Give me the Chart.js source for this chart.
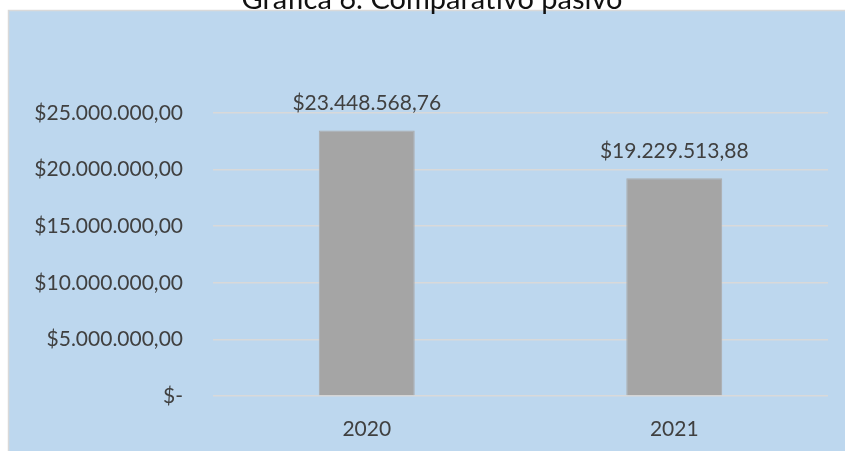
<!DOCTYPE html>
<html>
<head>
<meta charset="utf-8">
<script src="https://cdn.jsdelivr.net/npm/chart.js@4.4.0/dist/chart.umd.min.js"></script>
<style>
    body { margin: 0; background: #ffffff; }
    #wrap { width: 845px; height: 451px; }
</style>
</head>
<body>
<div id="wrap"><canvas id="myChart" width="845" height="451"></canvas></div>
<script>
// datos del grafico
var years = ['2020', '2021'];
var pasivo = [23448568.76, 19229513.88];
var yTicks = [0, 5000000, 10000000, 15000000, 20000000, 25000000];
var yTickLabels = ['$-', '$5.000.000,00', '$10.000.000,00', '$15.000.000,00', '$20.000.000,00', '$25.000.000,00'];
var chartTitle = 'Gráfica 6. Comparativo pasivo';

var fontName = 'Lato, "Open Sans", sans-serif';
var textColor = '#404040';

function formatMoney(v) {
    var parts = v.toFixed(2).split('.');
    var ent = parts[0].replace(/\B(?=(\d{3})+(?!\d))/g, '.');
    return '$' + ent + ',' + parts[1];
}

// fondo azul y titulo
var backgroundPlugin = {
    id: 'fondo',
    beforeDraw: function (chart) {
        var ctx = chart.ctx;
        ctx.save();
        ctx.fillStyle = '#ffffff';
        ctx.fillRect(0, 0, chart.width, chart.height);
        ctx.fillStyle = '#bdd7ee';
        ctx.fillRect(9, 11, chart.width - 9, chart.height - 11);
        ctx.strokeStyle = '#d9d9d9';
        ctx.lineWidth = 1.5;
        ctx.beginPath();
        ctx.moveTo(8.5, chart.height);
        ctx.lineTo(8.5, 10.5);
        ctx.lineTo(chart.width, 10.5);
        ctx.stroke();
        ctx.fillStyle = '#111111';
        ctx.font = '29px ' + fontName;
        ctx.textAlign = 'center';
        ctx.textBaseline = 'alphabetic';
        ctx.fillText(chartTitle, 432, 9);
        ctx.restore();
    }
};

// etiquetas de valor encima de las barras
var labelPlugin = {
    id: 'etiquetas',
    afterDatasetsDraw: function (chart) {
        var ctx = chart.ctx;
        var meta = chart.getDatasetMeta(0);
        ctx.save();
        ctx.fillStyle = textColor;
        ctx.font = '21px ' + fontName;
        ctx.textAlign = 'center';
        ctx.textBaseline = 'middle';
        meta.data.forEach(function (bar, i) {
            ctx.fillText(formatMoney(pasivo[i]), bar.x, bar.y - 27);
        });
        ctx.restore();
    }
};

var ctx = document.getElementById('myChart').getContext('2d');
var myChart = new Chart(ctx, {
    type: 'bar',
    data: {
        labels: years,
        datasets: [{
            label: 'Pasivo',
            data: pasivo,
            backgroundColor: '#a5a5a5',
            borderColor: '#acacac',
            borderWidth: 1,
            categoryPercentage: 1,
            barPercentage: 0.312
        }]
    },
    options: {
        responsive: false,
        animation: false,
        layout: {
            padding: { top: 113, right: 17, bottom: 0, left: 0 }
        },
        plugins: {
            legend: { display: false },
            title: { display: false },
            tooltip: { enabled: false }
        },
        scales: {
            x: {
                grid: { display: false },
                border: { display: false },
                ticks: {
                    color: textColor,
                    font: { family: fontName, size: 21 },
                    padding: 13
                },
                afterFit: function (s) { s.height = 55; }
            },
            y: {
                min: 0,
                max: 25000000,
                afterBuildTicks: function (s) {
                    s.ticks = yTicks.map(function (v) { return { value: v }; });
                },
                grid: {
                    color: '#d9d9d9',
                    lineWidth: 1.5,
                    drawTicks: false
                },
                border: { display: false },
                ticks: {
                    color: textColor,
                    font: { family: fontName, size: 21 },
                    padding: 30,
                    callback: function (v, i) { return yTickLabels[i]; }
                },
                afterFit: function (s) { s.width = 213; }
            }
        }
    },
    plugins: [backgroundPlugin, labelPlugin]
});
</script>
</body>
</html>
